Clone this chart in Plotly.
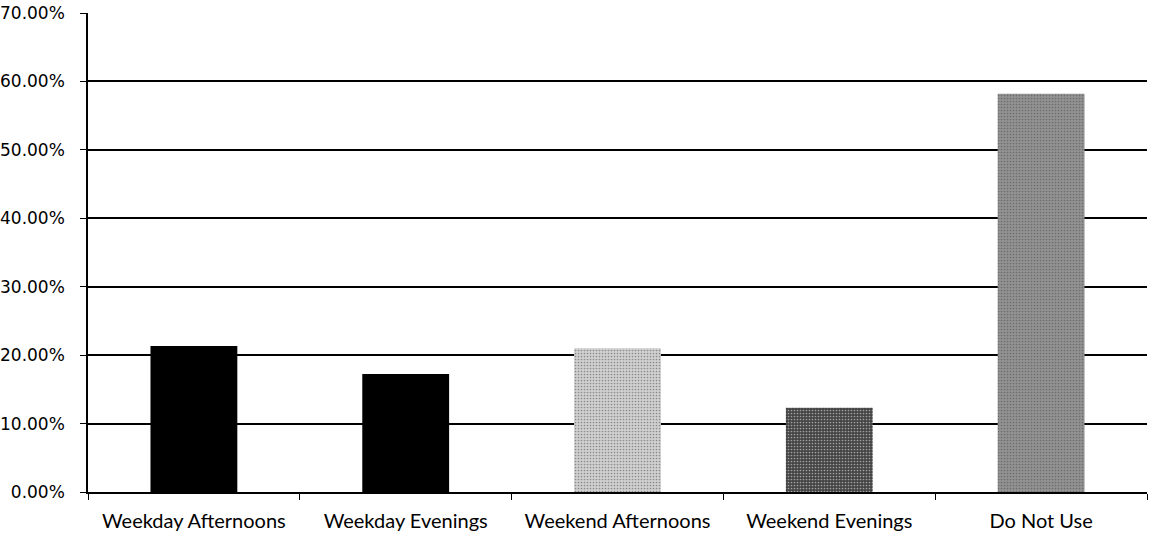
import plotly.graph_objects as go

# Share of respondents by preferred time slot
categories = ["Weekday Afternoons", "Weekday Evenings", "Weekend Afternoons",
              "Weekend Evenings", "Do Not Use"]
shares = [0.2135, 0.1725, 0.2100, 0.1230, 0.5820]
bar_colors = ["#000000", "#000000", "#d0d0d0", "#444444", "#929292"]
dot_colors = ["#000000", "#000000", "#808080", "#0a0a0a", "#333333"]

y_ticks = [0, 0.1, 0.2, 0.3, 0.4, 0.5, 0.6, 0.7]

fig = go.Figure()
fig.add_trace(go.Bar(
    x=categories,
    y=shares,
    width=0.41,
    marker=dict(
        color=bar_colors,
        line=dict(width=0),
        pattern=dict(shape=["", "", ".", ".", "."], fgcolor=dot_colors,
                     size=3, solidity=0.25),
    ),
    showlegend=False,
))

fig.update_layout(
    width=1150,
    height=536,
    margin=dict(l=88, r=3, t=13, b=44, autoexpand=False),
    paper_bgcolor="white",
    plot_bgcolor="white",
    font=dict(family="Lato, Open Sans, sans-serif", size=15, color="black"),
)

fig.update_yaxes(
    range=[0, 0.7],
    tickvals=y_ticks,
    tickformat=".2%",
    tickfont=dict(family="DejaVu Sans", size=17),
    automargin=False,
    showgrid=True,
    gridcolor="black",
    gridwidth=1.5,
    showline=True,
    linecolor="black",
    linewidth=1.5,
    ticks="outside",
    ticklen=6,
    tickcolor="black",
    ticklabelstandoff=12,
    zeroline=False,
)

fig.update_xaxes(
    tickfont=dict(family="Lato", size=20),
    automargin=False,
    showline=True,
    linecolor="black",
    linewidth=1.5,
    ticks="outside",
    tickson="boundaries",
    ticklen=6,
    tickcolor="black",
    ticklabelstandoff=10,
    showgrid=False,
)

# drop the default page margin so the figure sits at the window's corner
fig.write_html(
    "out.html",
    config={"displayModeBar": False},
    post_script="document.body.style.margin='0';document.body.style.overflow='hidden';",
)
